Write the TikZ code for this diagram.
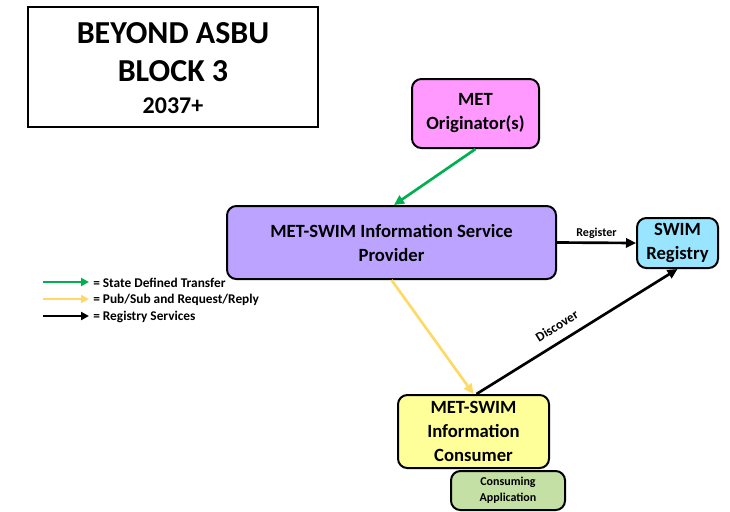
\documentclass[tikz,border=0pt]{standalone}
\usepackage{fontspec}
\setmainfont{Carlito}
\usetikzlibrary{arrows.meta,calc}
\definecolor{pinkfill}{HTML}{FF99FF}
\definecolor{provfill}{HTML}{BBA3FF}
\definecolor{regfill}{HTML}{99E5FF}
\definecolor{consfill}{HTML}{FFFF99}
\definecolor{appfill}{HTML}{C5E0A4}
\definecolor{greenarrow}{HTML}{00B050}
\definecolor{yellowarrow}{HTML}{FFD966}
\tikzset{
  box/.style={draw=black, line width=1.5pt, rounded corners=7pt, inner sep=0pt, align=center, font=\bfseries\fontsize{14}{18}\selectfont},
  conn/.style={line width=2pt, -{Triangle[length=7.5pt,width=7pt]}},
  legarrow/.style={line width=2.2pt, -{Triangle[length=6pt,width=6pt]}},
  legtext/.style={anchor=west, inner sep=0pt, font=\bfseries\fontsize{10}{12}\selectfont},
  smalllabel/.style={font=\bfseries\fontsize{9}{11}\selectfont, inner sep=1pt}
}
\begin{document}
\begin{tikzpicture}[x=0.75pt,y=-0.75pt]
\useasboundingbox (0,0) rectangle (730,511);
% title
\node[draw=black, line width=1.5pt, minimum width=290*0.75, minimum height=120*0.75, inner sep=0pt] (title) at (173,67) {};
\node[font=\bfseries\fontsize{24}{29}\selectfont, align=center] (t1) at (173,52) {BEYOND ASBU\\BLOCK 3};
\node[font=\bfseries\fontsize{18}{22}\selectfont] (t2) at (173,106) {2037+};
% boxes
\node[box, fill=pinkfill, minimum width=127*0.75, minimum height=69*0.75] (orig) at (475.5,113.5) {MET\\Originator(s)};
\node[box, fill=provfill, minimum width=329*0.75, minimum height=73*0.75] (prov) at (391.5,242.5) {MET-SWIM Information Service\\Provider};
\node[box, fill=regfill, minimum width=81*0.75, minimum height=50*0.75] (reg) at (677.5,243) {SWIM\\Registry};
\node[box, fill=consfill, minimum width=151*0.75, minimum height=73*0.75] (cons) at (473.5,431.5) {MET-SWIM\\Information\\Consumer};
\node[box, fill=appfill, minimum width=114*0.75, minimum height=39*0.75, font=\bfseries\fontsize{9}{12}\selectfont] (app) at (508,490.5) {Consuming\\Application};
% connectors
\coordinate (gx) at (394,0);
\draw[conn, greenarrow] (orig.south) -- (prov.north -| gx);
\draw[conn, yellowarrow] (prov.south) -- (cons.north);
\draw[conn, black] (prov.east) -- node[smalllabel, above=1pt] (reglab) {Register} (reg.west);
\draw[conn, black] ($(cons.north)+(3,0)$) -- node[font=\bfseries\fontsize{10}{12}\selectfont, inner sep=1pt, pos=0.44, above=6pt, sloped] (disclab) {Discover} (reg.south);
% legend
\coordinate (l1a) at (43,282); \coordinate (l1b) at (89,282);
\coordinate (l2a) at (43,299); \coordinate (l2b) at (89,299);
\coordinate (l3a) at (43,316); \coordinate (l3b) at (89,316);
\draw[legarrow, greenarrow] (l1a) -- (l1b);
\draw[legarrow, yellowarrow] (l2a) -- (l2b);
\draw[legarrow, black] (l3a) -- (l3b);
\node[legtext] (lt1) at (93,283) {= State Defined Transfer};
\node[legtext] (lt2) at (93,300) {= Pub/Sub and Request/Reply};
\node[legtext] (lt3) at (93,317) {= Registry Services};
\end{tikzpicture}
\end{document}
